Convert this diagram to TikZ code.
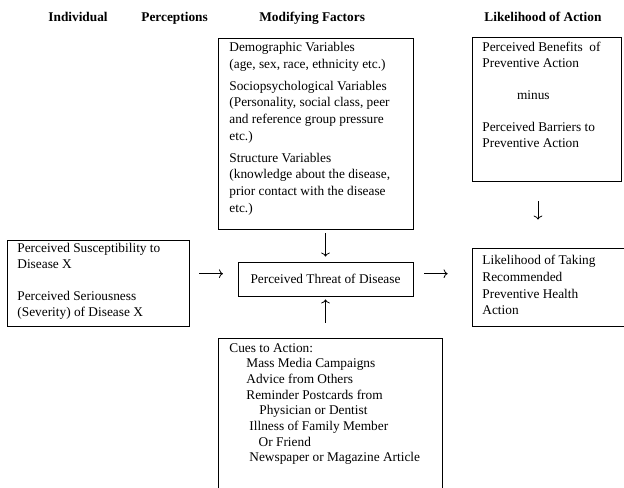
\documentclass[tikz,border=0pt]{standalone}
\usepackage{fontspec}
\setmainfont{Liberation Serif}
\usetikzlibrary{fit,arrows.meta}

\tikzset{
  box/.style={draw,line width=0.6pt,inner sep=0pt},
  boxtext/.style={anchor=north west,inner sep=0pt,align=left,font=\fontsize{10pt}{12.5pt}\selectfont},
  heading/.style={anchor=base west,inner sep=0pt,font=\fontsize{10pt}{12pt}\selectfont\bfseries},
}

\begin{document}
\begin{tikzpicture}[x=0.75pt,y=-0.75pt,>={To[length=3pt,width=6.5pt]},line width=0.6pt]
  \useasboundingbox (0,0) rectangle (624,487);
  \clip (0,0) rectangle (624,487);

  % column headings
  \node[heading] (hindiv) at (48,21) {Individual};
  \node[heading] (hperc) at (141,21) {Perceptions};
  \node[heading] (hmod) at (259,21) {Modifying Factors};
  \node[heading] (hlike) at (484,21) {Likelihood of Action};

  % boxes
  \node[box,fit={(218,38) (413,229)}] (demog) {};
  \node[boxtext] (demogtxt) at (229,42) {Demographic Variables\\
    (age, sex, race, ethnicity etc.)\\[4pt]
    Sociopsychological Variables\\
    (Personality, social class, peer\\
    and reference group pressure\\
    etc.)\\[4pt]
    Structure Variables\\
    (knowledge about the disease,\\
    prior contact with the disease\\
    etc.)};

  \node[box,fit={(472,37) (621,181)}] (benefits) {};
  \node[boxtext,font=\fontsize{10pt}{12pt}\selectfont] (benefitstxt) at (482,42) {Perceived Benefits~ of\\
    Preventive Action\\[12pt]
    \hspace*{26pt}minus\\[12pt]
    Perceived Barriers to\\
    Preventive Action};

  \node[box,fit={(7,240) (189,326)}] (suscept) {};
  \node[boxtext,font=\fontsize{10pt}{12pt}\selectfont] (suscepttxt) at (17,243) {Perceived Susceptibility to\\
    Disease X\\[12pt]
    Perceived Seriousness\\
    (Severity) of Disease X};

  \node[box,fit={(238,262) (413,296)}] (threat) {};
  \node[inner sep=0pt,font=\fontsize{10pt}{12pt}\selectfont] (threattxt) at (threat.center) {Perceived Threat of Disease};

  \node[box,fit={(472,248) (640,326)}] (likely) {};
  \node[boxtext] (likelytxt) at (482,255) {Likelihood of Taking\\
    Recommended\\
    Preventive Health\\
    Action};

  \node[box,fit={(218,338) (442,500)}] (cues) {};
  \node[boxtext,font=\fontsize{10pt}{11.75pt}\selectfont] (cuestxt) at (229,343) {Cues to Action:\\
    \hspace*{12.75pt}Mass Media Campaigns\\
    \hspace*{12.75pt}Advice from Others\\
    \hspace*{12.75pt}Reminder Postcards from\\
    \hspace*{22.5pt}Physician or Dentist\\
    \hspace*{15pt}Illness of Family Member\\
    \hspace*{22pt}Or Friend\\
    \hspace*{15pt}Newspaper or Magazine Article};

  % arrows
  \draw[->,shorten <=3pt,shorten >=3.75pt] (threat.north |- demog.south) -- (threat.north);
  \draw[->,shorten <=11pt,shorten >=2.25pt] (threat.south |- cues.north) -- (threat.south);
  \draw[->,shorten <=7.5pt,shorten >=11pt] ([yshift=4pt]suscept.east |- threat.west) -- ([yshift=4pt]threat.west);
  \draw[->,shorten <=8pt,shorten >=18pt] ([yshift=4pt]threat.east) -- ([yshift=4pt]threat.east -| likely.west);
  \draw[->,shorten <=15pt,shorten >=21pt] ([xshift=-6.4pt]benefits.south) -- ([xshift=-6.4pt]benefits.south |- likely.north);
\end{tikzpicture}
\end{document}
